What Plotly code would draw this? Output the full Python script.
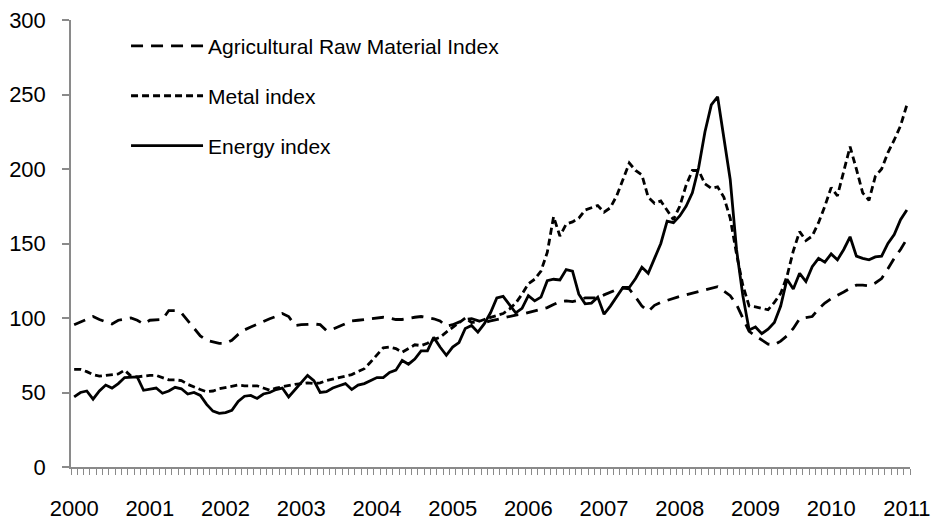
import plotly.graph_objects as go

# Tick labels (one per January, Jan 2000 .. Jan 2011)
years = ["2000", "2001", "2002", "2003", "2004", "2005",
         "2006", "2007", "2008", "2009", "2010", "2011"]

# Monthly index values, Jan 2000 .. Jan 2011 (133 months)
agricultural = [
    95.5, 97.5, 99, 101, 99, 97.5, 96, 98.5, 99.5, 100, 98.5, 96,
    98.5, 99, 99, 105, 105, 103.5, 98.5, 93, 88, 85, 84, 83,
    83, 85, 89, 92, 94, 96, 98, 99.5, 101, 103, 101, 95,
    95.5, 96, 96, 95.5, 91.5, 92.5, 94.5, 96, 98, 98.5, 99, 99.5,
    100, 100.5, 100, 99, 99, 100, 100.5, 101, 100.5, 99.5, 98, 94.5,
    95.5, 97.5, 99, 99.5, 98, 97, 98, 99, 100, 101.5, 102, 102.5,
    103.5, 104.5, 105.5, 107, 109, 111, 111.5, 111, 112, 113.5, 113.5, 113.5,
    115.5, 117.5, 119, 120, 119.5, 114, 108, 104.5, 108.5, 110.5, 112, 113.5,
    114.5, 115.5, 116.5, 117.5, 118.5, 119.5, 121, 118, 115, 109, 100, 91,
    88, 85, 82.5, 82, 84.5, 88, 93, 99.5, 100.5, 101, 106, 110,
    113, 115, 117.5, 120, 122, 122, 121.5, 123.5, 126.5, 133, 140, 146,
    153,
]
metal = [
    65.5, 65.5, 64, 62, 61, 61.5, 62, 62.5, 65, 61, 60.5, 61,
    61.5, 61.5, 60, 58.5, 58.5, 58, 55.5, 53.5, 52, 50.5, 51, 52.5,
    53.5, 54.5, 55, 54.5, 54.5, 54.5, 53, 51.5, 53, 54, 54.5, 55.5,
    56, 56.5, 56, 56.5, 58, 59, 59.5, 60.5, 62, 64, 66, 70.5,
    75.5, 80, 80.5, 79.5, 77, 79.5, 82, 81.5, 83, 85.5, 87, 90.5,
    93.5, 97, 100, 97, 97.5, 99, 100.5, 102, 103, 106, 110, 116,
    123, 126, 131.5, 144, 168, 155, 163, 164.5, 167, 172.5, 174, 175.5,
    171, 174, 182, 193, 204, 199, 196, 181, 177, 178.5, 172, 166,
    175, 189, 199, 199, 190, 187, 188, 181, 167, 143, 122, 108,
    107.5, 106.5, 105.5, 110.5, 116.5, 128, 145, 158, 152, 155, 164, 175,
    187.5, 182, 199, 215, 200, 184, 179, 195, 200, 211, 219.5, 229,
    243,
]
energy = [
    47, 50, 51, 45.5, 51, 55, 53, 56, 60, 60, 60.5, 51.5,
    52, 53, 49.5, 51, 53.5, 52.5, 49, 50, 48, 42, 37.5, 36,
    36.5, 38, 44, 47.5, 48, 46, 49, 50, 52, 53, 47, 52,
    57, 61.5, 58, 50, 50.5, 53, 54.5, 56, 52, 55, 56, 58,
    60, 60, 63.5, 65, 71.5, 69, 72.5, 78, 78, 87, 80.5, 75,
    80.5, 83.5, 93, 95, 90.5, 96, 103.5, 113.5, 114.5, 109, 103.5, 106.5,
    115, 111.5, 114, 125, 126, 125.5, 132.5, 131.5, 116, 109.5, 110, 114,
    102.5, 108, 114, 120.5, 120.5, 126.5, 134, 130, 140, 150, 165, 164,
    168.5, 175, 184, 201, 225, 243, 248.5, 219, 193, 146, 115, 92,
    94, 89.5, 92.5, 97, 108, 126, 119.5, 130, 124.5, 134.5, 140, 137.5,
    143, 139, 146, 154.5, 141.5, 140, 139, 141, 141.5, 150, 156, 166,
    172.5,
]

series_names = ["Agricultural Raw Material Index", "Metal index", "Energy index"]

n = len(energy)
months = list(range(n))
year_positions = [12 * k for k in range(len(years))]

FONT = "Liberation Sans, Arial, sans-serif"
AXIS_GRAY = "#8a8a8a"

fig = go.Figure()
styles = [("12px,8px", agricultural), ("7px,4px", metal), ("solid", energy)]
for name, (dash, vals) in zip(series_names, styles):
    fig.add_trace(go.Scatter(
        x=months, y=vals, mode="lines", name=name,
        legendgroup=name,
        line=dict(color="black", width=2.8, dash=dash),
        hoverinfo="skip",
    ))

fig.update_layout(
    width=932, height=522,
    margin=dict(l=71, r=22, t=20, b=55),
    paper_bgcolor="white", plot_bgcolor="white",
    font=dict(family=FONT, size=21, color="black"),
    showlegend=True,
    legend=dict(
        x=0.0656, y=0.987, xanchor="left", yanchor="top",
        bgcolor="rgba(0,0,0,0)", borderwidth=0,
        font=dict(family=FONT, size=21, color="black"),
        traceorder="grouped", tracegroupgap=19.5,
        itemwidth=72,
    ),
)

fig.update_xaxes(
    range=[-0.5, n - 0.5], automargin=False,
    tickmode="array", tickvals=year_positions, ticktext=years,
    ticks="", showgrid=False, zeroline=False,
    showline=True, linecolor=AXIS_GRAY, linewidth=1.5,
    tickfont=dict(family=FONT, size=22, color="black"),
    ticklabelstandoff=21,
    minor=dict(tick0=-0.5, dtick=1, ticks="outside", ticklen=6,
               tickcolor=AXIS_GRAY, tickwidth=1, showgrid=False),
)
fig.update_yaxes(
    range=[0, 300], tickmode="linear", tick0=0, dtick=50, automargin=False,
    ticks="outside", ticklen=7, tickcolor=AXIS_GRAY, tickwidth=1.5,
    showgrid=False, zeroline=False,
    showline=True, linecolor=AXIS_GRAY, linewidth=1.5,
    tickfont=dict(family=FONT, size=22, color="black"),
    ticklabelstandoff=12,
)

fig.write_html(
    "out.html",
    config={"displayModeBar": False},
    post_script="document.body.style.margin='0';document.body.style.overflow='hidden';",
)
